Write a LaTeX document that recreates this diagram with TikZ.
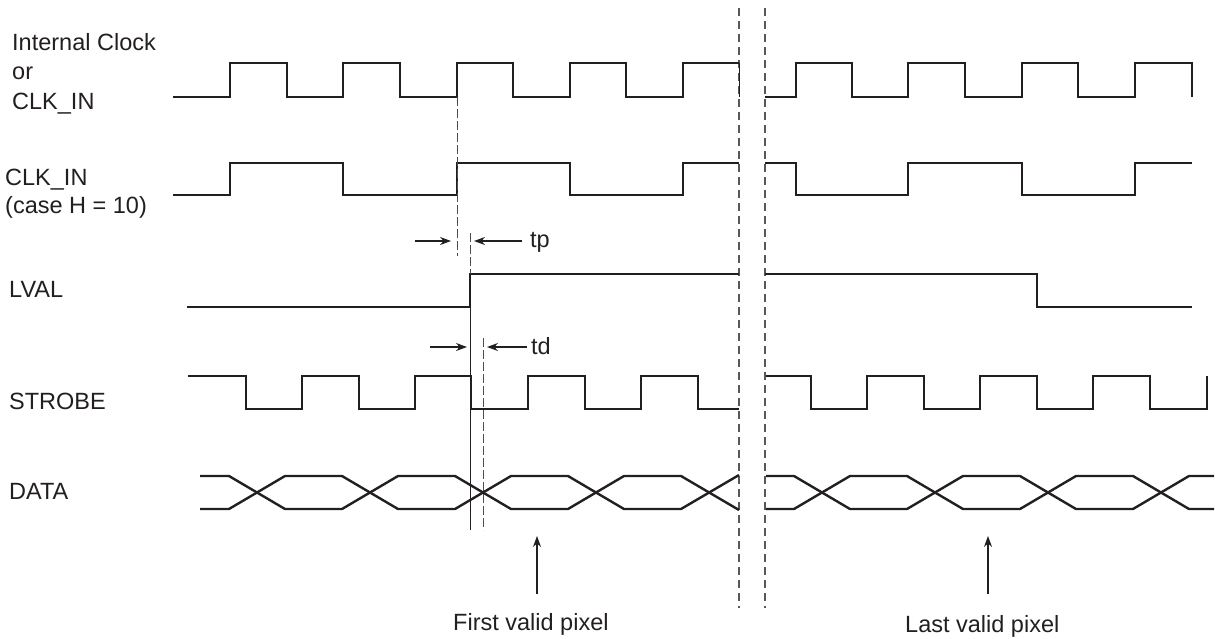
\documentclass[tikz,border=0pt]{standalone}
\usepackage{fontspec}
\setmainfont{Liberation Sans}
\usetikzlibrary{arrows.meta}
\definecolor{ink}{HTML}{231F20}
\begin{document}
\begin{tikzpicture}[x=1pt,y=-1pt,
  wave/.style={draw=ink,line width=2.4pt,line join=miter},
  breakline/.style={draw=ink!75,line width=1.3pt,dash pattern=on 8pt off 5pt},
  marker/.style={draw=ink,line width=1pt},
  markerdash/.style={draw=ink!80,line width=1pt,dash pattern=on 9pt off 3pt},
  dimarrow/.style={draw=ink,line width=1.1pt,-{Stealth[length=11pt,width=8pt]}},
  lbl/.style={inner sep=0pt,anchor=base west,text=ink,font=\fontsize{23.5}{28}\selectfont}]
\useasboundingbox (0,0) rectangle (1215,638);

% signal labels
\node[lbl] (l1) at (12,50) {Internal Clock};
\node[lbl] (l2) at (12,79) {or};
\node[lbl] (l3) at (12,109) {CLK\_IN};
\node[lbl] (l4) at (5,185) {CLK\_IN};
\node[lbl] (l5) at (5,213) {(case H = 10)};
\node[lbl] (l6) at (9,297) {LVAL};
\node[lbl] (l7) at (9,409) {STROBE};
\node[lbl] (l8) at (9,499) {DATA};

% break lines
\draw[breakline] (739,8) -- (739,608);
\draw[breakline] (765,8) -- (765,608);

% Internal clock
\draw[wave] (173,97) -- (230,97) -- (230,63) -- (287,63) -- (287,97) -- (343,97) -- (343,63) -- (400,63) -- (400,97) -- (457,97) -- (457,63) -- (513,63) -- (513,97) -- (570,97) -- (570,63) -- (626,63) -- (626,97) -- (683,97) -- (683,63) -- (739,63);
\draw[marker] (739,63) -- (739,97);
\draw[wave] (765,97) -- (796,97) -- (796,63) -- (852,63) -- (852,97) -- (908,97) -- (908,63) -- (965,63) -- (965,97) -- (1022,97) -- (1022,63) -- (1078,63) -- (1078,97) -- (1135,97) -- (1135,63) -- (1192,63) -- (1192,97);

% CLK_IN (H = 10)
\draw[wave] (173,195) -- (230,195) -- (230,163) -- (343,163) -- (343,195) -- (457,195) -- (457,163) -- (570,163) -- (570,195) -- (683,195) -- (683,163) -- (739,163);
\draw[wave] (765,163) -- (796,163) -- (796,195) -- (908,195) -- (908,163) -- (1022,163) -- (1022,195) -- (1135,195) -- (1135,163) -- (1192,163);

% LVAL
\draw[wave] (187,307) -- (470,307) -- (470,274) -- (739,274);
\draw[wave] (765,274) -- (1037,274) -- (1037,307) -- (1192,307);

% STROBE
\draw[wave] (188,376) -- (246,376) -- (246,409) -- (302,409) -- (302,376) -- (359,376) -- (359,409) -- (415,409) -- (415,376) -- (471,376) -- (471,409) -- (528,409) -- (528,376) -- (585,376) -- (585,409) -- (641,409) -- (641,376) -- (698,376) -- (698,409) -- (739,409);
\draw[wave] (766,376) -- (811,376) -- (811,409) -- (867,409) -- (867,376) -- (924,376) -- (924,409) -- (980,409) -- (980,376) -- (1037,376) -- (1037,409) -- (1093,409) -- (1093,376) -- (1150,376) -- (1150,409) -- (1207,409) -- (1207,376);

% DATA
\draw[wave] (200,476) -- (229,476) -- (285,509) -- (342,509) -- (398,476) -- (455,476) -- (511,509) -- (568,509) -- (624,476) -- (681,476) -- (739,510);
\draw[wave] (200,509) -- (229,509) -- (285,476) -- (342,476) -- (398,509) -- (455,509) -- (511,476) -- (568,476) -- (624,509) -- (681,509) -- (739,475);
\draw[wave] (766,476) -- (794,476) -- (850,509) -- (907,509) -- (963,476) -- (1020,476) -- (1076,509) -- (1133,509) -- (1189,476) -- (1214,476);
\draw[wave] (766,509) -- (794,509) -- (850,476) -- (907,476) -- (963,509) -- (1020,509) -- (1076,476) -- (1133,476) -- (1189,509) -- (1214,509);

% timing markers
\draw[markerdash] (457,97) -- (457,256);
\draw[markerdash] (470,233) -- (470,274);
\draw[marker] (470,274) -- (470,530);
\draw[markerdash] (483,338) -- (483,530);

% tp
\coordinate (tpa1) at (415,241);
\coordinate (tpb1) at (451,241);
\coordinate (tpa2) at (522,241);
\coordinate (tpb2) at (474,241);
\draw[dimarrow] (tpa1) -- (tpb1);
\draw[dimarrow] (tpa2) -- (tpb2);
\node[lbl] (tp) at (530,247) {tp};

% td
\coordinate (tda1) at (430,347);
\coordinate (tdb1) at (467,347);
\coordinate (tda2) at (527,347);
\coordinate (tdb2) at (487,347);
\draw[dimarrow] (tda1) -- (tdb1);
\draw[dimarrow] (tda2) -- (tdb2);
\node[lbl] (td) at (531,354) {td};

% valid pixel pointers
\node[lbl] (first) at (453,630) {First valid pixel};
\node[lbl] (last) at (905,632) {Last valid pixel};
\coordinate (fa) at (537,594);
\coordinate (fb) at (537,536);
\coordinate (la) at (988,594);
\coordinate (lb) at (988,536);
\draw[dimarrow] (fa) -- (fb);
\draw[dimarrow] (la) -- (lb);
\end{tikzpicture}
\end{document}
